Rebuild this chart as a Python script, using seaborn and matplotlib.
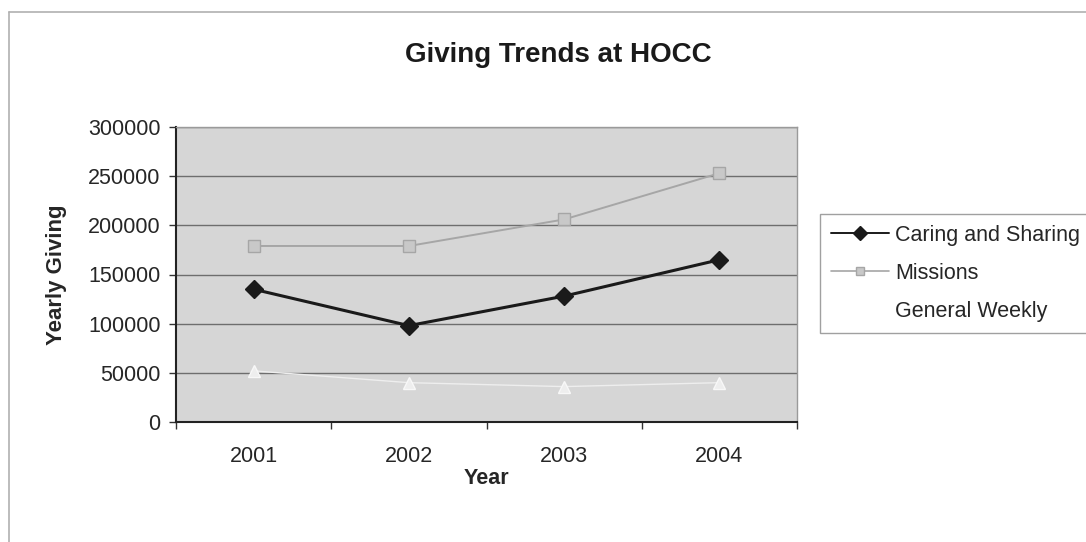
import matplotlib
matplotlib.use("Agg")
import matplotlib.pyplot as plt
import seaborn as sns
import pandas as pd
from matplotlib.lines import Line2D

years = ["2001", "2002", "2003", "2004"]
caring = [135000, 98000, 128000, 165000]
missions = [179000, 179000, 206000, 253000]
general = [52000, 40000, 36000, 40000]
series_names = ["Caring and Sharing", "Missions", "General Weekly"]
y_ticks = [0, 50000, 100000, 150000, 200000, 250000, 300000]

df = pd.DataFrame({
    "Year": years * 3,
    "Value": caring + missions + general,
    "Series": [series_names[0]] * 4 + [series_names[1]] * 4 + [series_names[2]] * 4,
})

sns.set_theme(style="white")
plt.rcParams["font.family"] = ["Liberation Sans", "DejaVu Sans"]

W, H = 1086, 542
fig = plt.figure(figsize=(W / 100, H / 100), dpi=100)
ax = fig.add_axes([176 / W, 1 - 422 / H, (797 - 176) / W, (422 - 127) / H])
ax.set_facecolor("#d6d6d6")

palette = {series_names[0]: "#1a1a1a", series_names[1]: "#a6a6a6", series_names[2]: "#eeeeee"}
markers = {series_names[0]: "D", series_names[1]: "s", series_names[2]: "^"}
lw = {series_names[0]: 2.2, series_names[1]: 1.4, series_names[2]: 1.0}

for name in series_names:
    sub = df[df["Series"] == name]
    mfc = "#c8c8c8" if name == series_names[1] else palette[name]
    mec = palette[name] if name != series_names[2] else "#f8f8f8"
    sns.lineplot(data=sub, x="Year", y="Value", ax=ax, color=palette[name],
                 marker=markers[name], markersize=9 if name != series_names[1] else 8,
                 markerfacecolor=mfc, markeredgecolor=mec,
                 markeredgewidth=1.0, linewidth=lw[name], legend=False, zorder=3)

ax.set_xlim(-0.5, 3.5)
ax.set_ylim(0, 300000)
ax.set_yticks(y_ticks)
ax.set_yticklabels([str(v) for v in y_ticks], fontsize=15.5)
ax.set_xticks(range(4))
ax.set_xticklabels(years, fontsize=15.5)
ax.tick_params(axis="x", length=0, pad=17)
ax.tick_params(axis="y", length=5, width=1, color="#333333", direction="out", left=True, pad=6)
ax.set_xticks([-0.5, 0.5, 1.5, 2.5, 3.5], minor=True)
ax.tick_params(axis="x", which="minor", length=5, width=1, color="#333333", bottom=True)

for v in y_ticks[1:]:
    ax.axhline(v, color="#6e6e6e", linewidth=1.0, zorder=1)

for side in ["top", "right"]:
    ax.spines[side].set_color("#9a9a9a")
    ax.spines[side].set_linewidth(1.0)
for side in ["left", "bottom"]:
    ax.spines[side].set_color("#222222")
    ax.spines[side].set_linewidth(1.5)

ax.set_xlabel("Year", fontsize=15.5, fontweight="bold", labelpad=1)
ax.set_ylabel("Yearly Giving", fontsize=16, fontweight="bold", labelpad=15)

fig.text(558 / W, 1 - 55 / H, "Giving Trends at HOCC", fontsize=20, fontweight="bold",
         ha="center", va="center", color="#1a1a1a")

handles = [
    Line2D([], [], color="#1a1a1a", marker="D", markersize=7, linewidth=1.4,
           markerfacecolor="#1a1a1a"),
    Line2D([], [], color="#a6a6a6", marker="s", markersize=6, linewidth=1.2,
           markerfacecolor="#c8c8c8"),
    Line2D([], [], color="white", marker="^", markersize=7, linewidth=1.2,
           markerfacecolor="white"),
]
leg = fig.legend(handles, series_names, loc="upper left",
                 bbox_to_anchor=(820 / W, 1 - 214 / H), fontsize=15.5, frameon=True,
                 fancybox=False, edgecolor="#888888", handlelength=2.7,
                 handletextpad=0.3, borderpad=0.5, labelspacing=0.8,
                 borderaxespad=0)
leg.get_frame().set_linewidth(1.0)

fig.add_artist(Line2D([9 / W, 9 / W], [0, 1 - 12 / H], color="#b0b0b0", linewidth=1.2,
                      transform=fig.transFigure))
fig.add_artist(Line2D([9 / W, 1], [1 - 12 / H, 1 - 12 / H], color="#b0b0b0", linewidth=1.2,
                      transform=fig.transFigure))

fig.savefig("out.png", dpi=100, facecolor="white")
